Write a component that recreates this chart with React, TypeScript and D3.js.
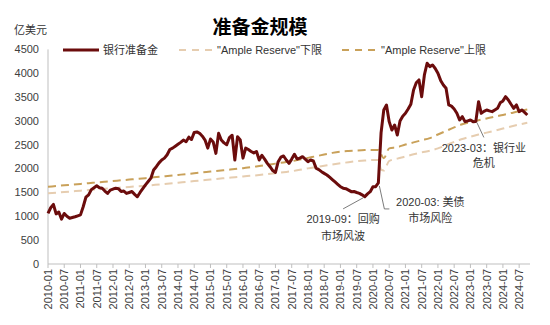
import React from "react";
import * as d3 from "d3";

// ---- data ----
const START_YEAR = 2010;
const reserves: number[] = [
  1063, 1180, 1250, 1050, 1090, 940, 1060, 1000, 960, 975, 990, 1010,
  1030, 1200, 1400, 1450, 1560, 1600, 1640, 1600, 1590, 1530, 1480, 1550,
  1570, 1590, 1580, 1520, 1530, 1480, 1500, 1520, 1460, 1410, 1500, 1580,
  1660, 1730, 1800, 1970, 2040, 2120, 2180, 2220, 2290, 2400, 2430, 2470,
  2510, 2550, 2600, 2565, 2660, 2610, 2760, 2770, 2740, 2680, 2600, 2430,
  2620, 2560, 2320, 2740, 2600, 2540, 2500, 2650, 2700, 2180, 2670, 2600,
  2220, 2430, 2400, 2360, 2330, 2360, 2180, 2280, 2200, 2110, 2040, 1960,
  1920, 2146, 2240, 2265, 2180, 2110, 2200, 2300, 2200, 2220, 2250, 2200,
  2146, 2180, 2160, 2010, 1980, 1936, 1900, 1866, 1820, 1770, 1720, 1670,
  1620, 1590, 1580, 1550, 1517, 1520, 1500, 1482, 1450, 1412, 1470, 1517,
  1620, 1622, 1700, 2750, 3230, 3335, 2985, 2810, 2915, 2705, 3000, 3100,
  3160, 3250, 3350, 3650, 3800, 3860, 3509, 3964, 4209, 4139, 4174, 4100,
  4000, 3850, 3754, 3684, 3335, 3310, 3250, 3160, 3020, 3090, 2985, 3000,
  3020, 2985, 2990, 3404, 3160, 3200, 3230, 3210, 3195, 3230, 3265, 3380,
  3420, 3509, 3440, 3350, 3265, 3335, 3195, 3230, 3180, 3125,
];

const upperBound: [string, number][] = [
  ["2010-01", 1620], ["2010-04", 1635], ["2010-07", 1650], ["2010-10", 1665],
  ["2011-01", 1680], ["2011-04", 1695], ["2011-07", 1710], ["2011-10", 1725],
  ["2012-01", 1740], ["2012-04", 1755], ["2012-07", 1770], ["2012-10", 1785],
  ["2013-01", 1800], ["2013-04", 1818], ["2013-07", 1835], ["2013-10", 1850],
  ["2014-01", 1868], ["2014-04", 1885], ["2014-07", 1903], ["2014-10", 1920],
  ["2015-01", 1938], ["2015-04", 1955], ["2015-07", 1973], ["2015-10", 1990],
  ["2016-01", 2010], ["2016-04", 2030], ["2016-07", 2055], ["2016-10", 2080],
  ["2017-01", 2105], ["2017-04", 2130], ["2017-07", 2155], ["2017-10", 2190],
  ["2018-01", 2225], ["2018-04", 2260], ["2018-07", 2295], ["2018-10", 2330],
  ["2019-01", 2356], ["2019-04", 2370], ["2019-07", 2380], ["2019-10", 2388],
  ["2020-01", 2392], ["2020-03", 2390], ["2020-05", 2220], ["2020-07", 2425],
  ["2020-10", 2450], ["2021-01", 2505], ["2021-04", 2550], ["2021-07", 2595],
  ["2021-10", 2640], ["2022-01", 2715], ["2022-04", 2790], ["2022-07", 2865],
  ["2022-10", 2930], ["2023-01", 2975], ["2023-04", 3015], ["2023-07", 3050],
  ["2023-10", 3090], ["2024-01", 3125], ["2024-04", 3165], ["2024-07", 3205],
  ["2024-10", 3240],
];

const lowerBound: [string, number][] = [
  ["2010-01", 1482], ["2010-04", 1495], ["2010-07", 1510], ["2010-10", 1523],
  ["2011-01", 1537], ["2011-04", 1550], ["2011-07", 1563], ["2011-10", 1577],
  ["2012-01", 1590], ["2012-04", 1603], ["2012-07", 1617], ["2012-10", 1630],
  ["2013-01", 1643], ["2013-04", 1657], ["2013-07", 1672], ["2013-10", 1688],
  ["2014-01", 1705], ["2014-04", 1722], ["2014-07", 1738], ["2014-10", 1755],
  ["2015-01", 1772], ["2015-04", 1788], ["2015-07", 1805], ["2015-10", 1820],
  ["2016-01", 1836], ["2016-04", 1850], ["2016-07", 1866], ["2016-10", 1885],
  ["2017-01", 1905], ["2017-04", 1925], ["2017-07", 1945], ["2017-10", 1975],
  ["2018-01", 2005], ["2018-04", 2035], ["2018-07", 2060], ["2018-10", 2085],
  ["2019-01", 2111], ["2019-04", 2135], ["2019-07", 2155], ["2019-10", 2170],
  ["2020-01", 2180], ["2020-03", 2181], ["2020-04", 1980], ["2020-05", 1960],
  ["2020-07", 2160], ["2020-10", 2210], ["2021-01", 2255], ["2021-04", 2300],
  ["2021-07", 2340], ["2021-10", 2375], ["2022-01", 2425], ["2022-04", 2490],
  ["2022-07", 2560], ["2022-10", 2620], ["2023-01", 2670], ["2023-04", 2715],
  ["2023-07", 2755], ["2023-10", 2795], ["2024-01", 2840], ["2024-04", 2885],
  ["2024-07", 2925], ["2024-10", 2960],
];

const yTicks = [0, 500, 1000, 1500, 2000, 2500, 3000, 3500, 4000, 4500];

const annotations = [
  { date: "2019-09", lines: ["2019-09：回购", "市场风波"] },
  { date: "2020-03", lines: ["2020-03: 美债", "市场风险"] },
  { date: "2023-03", lines: ["2023-03：银行业", "危机"] },
];

const seriesNames = ["银行准备金", "\"Ample Reserve\"下限", "\"Ample Reserve\"上限"];

// ---- helpers ----
const monthLabel = (i: number) => {
  const y = START_YEAR + Math.floor(i / 12);
  const m = (i % 12) + 1;
  return `${y}-${m < 10 ? "0" + m : m}`;
};
const monthIndex = (s: string) => {
  const [y, m] = s.split("-").map(Number);
  return (y - START_YEAR) * 12 + (m - 1);
};

const W = 550, H = 325;
const FONT = "'Liberation Sans', Arial, 'Noto Sans CJK SC', sans-serif";
const C_MAIN = "#6B0C0C";
const C_UP = "#C9A15A";
const C_LOW = "#E6CDB0";

export default function App() {
  const x = d3.scaleLinear().domain([0, 178]).range([48, 530]);
  const y = d3.scaleLinear().domain([0, 4500]).range([264, 49.4]);

  const line = d3.line<[number, number]>().x((d) => x(d[0])).y((d) => y(d[1])).curve(d3.curveLinear);
  const smooth = d3.line<[number, number]>().x((d) => x(d[0])).y((d) => y(d[1])).curve(d3.curveMonotoneX);

  const mainPts: [number, number][] = reserves.map((v, i) => [i, v]);
  const upPts: [number, number][] = upperBound.map(([d, v]) => [monthIndex(d), v]);
  const lowPts: [number, number][] = lowerBound.map(([d, v]) => [monthIndex(d), v]);

  const xTickIdx = d3.range(0, reserves.length, 6);

  const ann = annotations.map((a) => {
    const i = monthIndex(a.date);
    return { ...a, px: x(i), py: y(reserves[i]) };
  });

  return (
    <div style={{ position: "absolute", left: 0, top: 0 }}>
      <svg width={W} height={H} style={{ display: "block", fontFamily: FONT }}>
        <rect width={W} height={H} fill="#fff" />
        {/* title */}
        <text x={260} y={34} textAnchor="middle" fontSize={19} fontWeight="bold" fill="#000">准备金规模</text>
        <text x={14} y={34} fontSize={11} fill="#333">亿美元</text>

        {/* legend */}
        <g fontSize={11} fill="#333">
          <line x1={63} x2={99} y1={50} y2={50} stroke={C_MAIN} strokeWidth={3} />
          <text x={103} y={54}>{seriesNames[0]}</text>
          <line x1={179} x2={213} y1={50} y2={50} stroke={C_LOW} strokeWidth={2} strokeDasharray="7,6" />
          <text x={217} y={54}>{seriesNames[1]}</text>
          <line x1={342} x2={378} y1={50} y2={50} stroke={C_UP} strokeWidth={2} strokeDasharray="7,6" />
          <text x={381} y={54}>{seriesNames[2]}</text>
        </g>

        {/* y axis */}
        <line x1={x(0)} x2={x(0)} y1={y(4500)} y2={y(0)} stroke="#BFBFBF" strokeWidth={1} />
        {yTicks.map((t) => (
          <text key={t} x={39} y={y(t)} dy="0.35em" textAnchor="end" fontSize={11} fill="#404040">{t}</text>
        ))}

        {/* x axis */}
        <line x1={x(0)} x2={x(178)} y1={y(0)} y2={y(0)} stroke="#BFBFBF" strokeWidth={1} />
        {xTickIdx.map((i) => (
          <g key={i}>
            <line x1={x(i)} x2={x(i)} y1={y(0)} y2={y(0) + 4} stroke="#BFBFBF" />
            <text transform={`translate(${x(i)},${y(0) + 5}) rotate(-90)`} dy="0.35em" textAnchor="end" fontSize={11} fill="#404040">{monthLabel(i)}</text>
          </g>
        ))}

        {/* series */}
        <path d={smooth(lowPts) || ""} fill="none" stroke={C_LOW} strokeWidth={2} strokeDasharray="8,5" />
        <path d={smooth(upPts) || ""} fill="none" stroke={C_UP} strokeWidth={2} strokeDasharray="8,5" />
        <path d={line(mainPts) || ""} fill="none" stroke={C_MAIN} strokeWidth={3} strokeLinejoin="round" />

        {/* annotations */}
        <g fontSize={11} fill="#333" stroke="none">
          {/* 2019-09 */}
          <line x1={ann[0].px + 1} y1={ann[0].py + 3} x2={ann[0].px - 19} y2={ann[0].py + 14} stroke="#595959" strokeWidth={0.8} />
          <text x={ann[0].px - 19} y={ann[0].py + 28} textAnchor="middle">{ann[0].lines[0]}</text>
          <text x={ann[0].px - 19} y={ann[0].py + 45} textAnchor="middle">{ann[0].lines[1]}</text>
          {/* 2020-03 */}
          <polyline points={`${ann[1].px + 1},${ann[1].py + 3} ${ann[1].px + 6},${ann[1].py + 26} ${ann[1].px + 11},${ann[1].py + 26}`} fill="none" stroke="#595959" strokeWidth={0.8} />
          <text x={ann[1].px + 52} y={ann[1].py + 23} textAnchor="middle">{ann[1].lines[0]}</text>
          <text x={ann[1].px + 52} y={ann[1].py + 39} textAnchor="middle">{ann[1].lines[1]}</text>
          {/* 2023-03 */}
          <line x1={ann[2].px + 1} y1={ann[2].py + 1} x2={ann[2].px + 8} y2={ann[2].py + 16} stroke="#595959" strokeWidth={0.8} />
          <text x={ann[2].px + 8} y={ann[2].py + 31} textAnchor="middle">{ann[2].lines[0]}</text>
          <text x={ann[2].px + 8} y={ann[2].py + 46} textAnchor="middle">{ann[2].lines[1]}</text>
        </g>
      </svg>
    </div>
  );
}
